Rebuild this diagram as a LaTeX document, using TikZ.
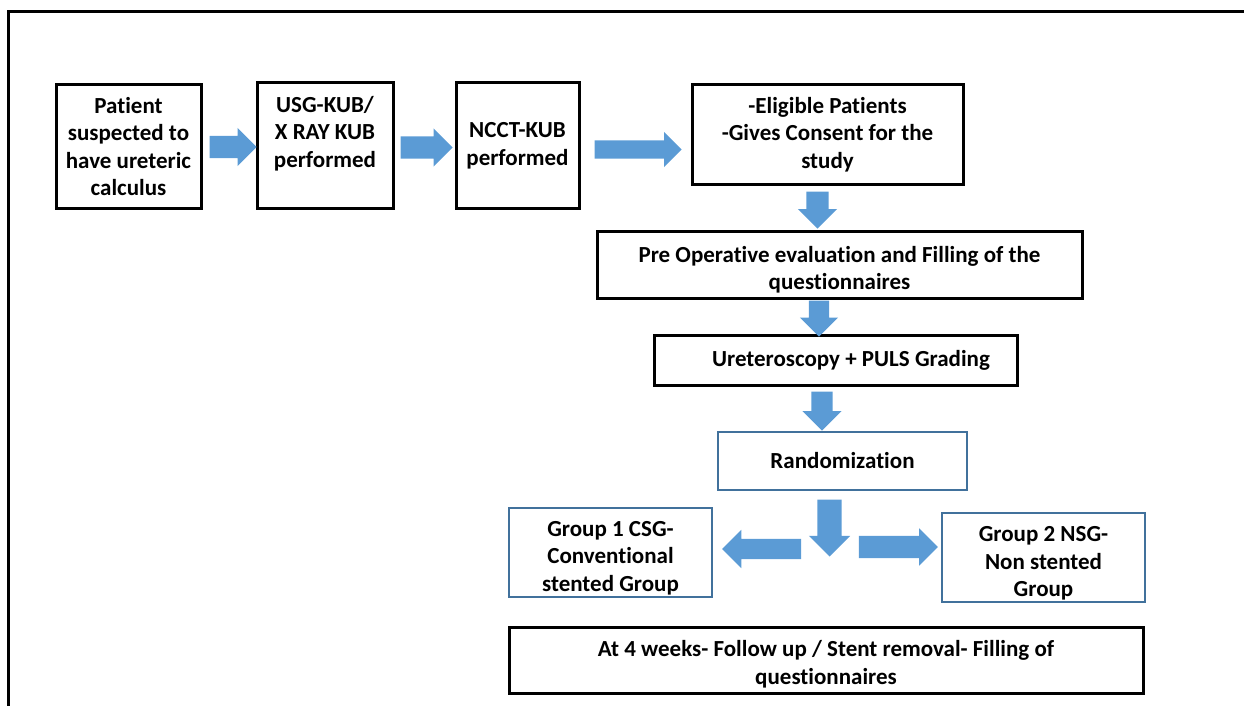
\documentclass[tikz,border=0pt]{standalone}
\usepackage{fontspec}
\setmainfont{Carlito}[Ligatures=NoCommon]
\usetikzlibrary{shapes.arrows, calc}
\definecolor{arrowblue}{HTML}{5B9BD5}
\definecolor{boxblue}{HTML}{41719C}
\newcommand{\padtop}[1]{\rule{0pt}{#1}}

\begin{document}
\begin{tikzpicture}[x=1pt, y=-1pt,
        box/.style={draw, line width=3pt, inner sep=0pt, align=center,
            font=\fontsize{23}{27.6}\selectfont\bfseries},
        bluebox/.style={box, draw=boxblue, line width=2.6pt},
        barrow/.style={single arrow, fill=arrowblue, inner xsep=0pt,
            inner ysep=11pt, single arrow head extend=8pt,
            single arrow head indent=0pt, anchor=tail},
        downarrow/.style={barrow, shape border rotate=270,
            inner ysep=0pt, inner xsep=#1},
        downarrow/.default=11pt]
        \useasboundingbox (0,0) rectangle (1244,706);
        \draw [line width=2.7] (8.7,706) |- (1244,11.3);
        \node [box, minimum width=145pt, minimum height=123pt] (patient)
            at (128.5,146.5) {Patient\\suspected to\\have ureteric\\calculus};
        \node [box, minimum width=136pt, minimum height=125pt] (usg)
            at (325,145.5) {USG-KUB/\\X RAY KUB\\performed\\\mbox{}};
        \node [box, minimum width=123pt, minimum height=125pt] (ncct)
            at (517.5,145.5) {NCCT-KUB\\performed};
        \node [box, minimum width=271pt, minimum height=99pt] (elig)
            at (827.5,134.5) {-Eligible Patients\\-Gives Consent for the\\study};
        \node [box, minimum width=485pt, minimum height=67pt] (preop)
            at (839.5,264.5) {\padtop{27pt}Pre Operative evaluation and Filling of the\\questionnaires};
        \node [box, minimum width=363pt, minimum height=50pt] (urs)
            at (835.5,360) {\hspace*{31pt}Ureteroscopy + PULS Grading};
        \node [bluebox, minimum width=249pt, minimum height=58pt] (rand)
            at (842.5,461) {Randomization};
        \node [bluebox, minimum width=203pt, minimum height=89pt] (csg)
            at (610.5,552.5) {\padtop{26pt}Group 1 CSG-\\Conventional\\stented Group};
        \node [bluebox, minimum width=203pt, minimum height=89pt] (nsg)
            at (1043.5,557.5) {\padtop{27pt}Group 2 NSG-\\Non stented\\Group};
        \node [box, minimum width=634pt, minimum height=66pt] (followup)
            at (826,660) {\padtop{25pt}At 4 weeks- Follow up / Stent removal- Filling of\\questionnaires};
        \node [barrow, minimum height=47pt] (a1)
            at ($(patient.east) + (7,0.5)$) {};
        \node [barrow, minimum height=52pt] (a2)
            at ($(usg.east) + (6,2)$) {};
        \node [barrow, minimum height=87pt, inner ysep=9pt,
            single arrow head extend=8.5pt] (a3)
            at ($(ncct.east) + (14,4)$) {};
        \node [downarrow, minimum height=37pt, single arrow head extend=8.5pt] (d1)
            at ($(elig.south) + (-10,6)$) {};
        \node [downarrow=10pt, minimum height=36pt,
            single arrow head extend=9pt] (d2)
            at ($(preop.south) + (-20.5,1)$) {};
        \node [downarrow=10.5pt, minimum height=39pt,
            single arrow head extend=9pt] (d3)
            at ($(urs.south) + (-13.5,5)$) {};
        \node [downarrow=12pt, minimum height=57pt,
            single arrow head extend=8.5pt] (d4)
            at ($(rand.south) + (-13,8)$) {};
        \node [barrow, shape border rotate=180, minimum height=79pt,
            inner ysep=10pt, single arrow head extend=9pt] (tocsg)
            at ($(csg.east) + (88,-3.5)$) {};
        \node [barrow, minimum height=79pt, inner ysep=11pt,
            single arrow head extend=7.5pt] (tonsg)
            at ($(nsg.west) + (-82,-10.5)$) {};
    \end{tikzpicture}
\end{document}
